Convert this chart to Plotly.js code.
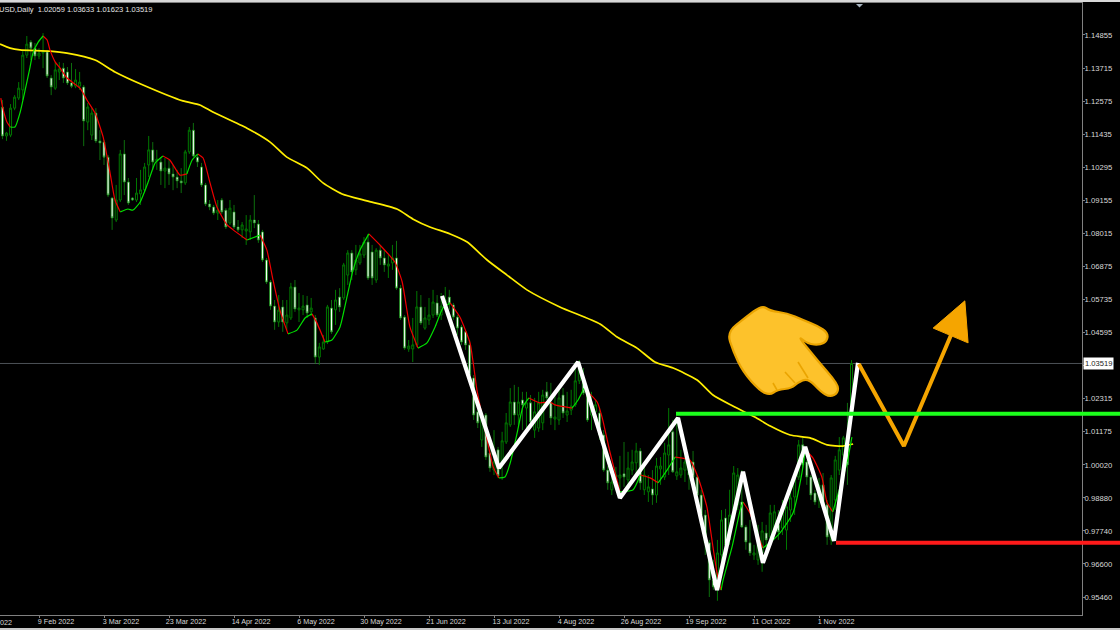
<!DOCTYPE html>
<html>
<head>
<meta charset="utf-8">
<script src="https://cdn.plot.ly/plotly-3.0.1.min.js"></script>
<style>html,body{margin:0;padding:0;background:#000;overflow:hidden}#chart{width:1120px;height:630px}</style>
</head>
<body>
<div id="chart"></div>
<script>
const barOpen = [1.1237,1.1137,1.1140,1.1233,1.1268,1.1296,1.1416,1.1461,1.1440,1.1413,1.1423,1.1427,1.1337,1.1302,1.1358,1.1371,1.1358,1.1320,1.1309,1.1309,1.1306,1.1185,1.1140,1.1216,1.1120,1.1116,1.1064,1.0923,1.0847,1.0916,1.1075,1.0978,1.0923,1.0916,1.0937,1.0951,1.1037,1.1089,1.1051,1.1047,1.1016,1.1026,1.1006,1.0995,1.0982,1.0975,1.1082,1.1157,1.1064,1.1030,1.0968,1.0902,1.0892,1.0871,1.0916,1.0881,1.0837,1.0875,1.0823,1.0813,1.0809,1.0806,1.0847,1.0833,1.0806,1.0709,1.0633,1.0550,1.0495,1.0547,1.0492,1.0509,1.0616,1.0537,1.0537,1.0554,1.0530,1.0509,1.0374,1.0402,1.0426,1.0543,1.0537,1.0581,1.0578,1.0657,1.0733,1.0675,1.0699,1.0726,1.0771,1.0737,1.0640,1.0743,1.0716,1.0688,1.0699,1.0716,1.0612,1.0512,1.0402,1.0402,1.0416,1.0547,1.0474,1.0502,1.0519,1.0561,1.0519,1.0550,1.0581,1.0554,1.0512,1.0478,1.0461,1.0416,1.0302,1.0185,1.0088,1.0174,1.0043,0.9984,1.0054,1.0009,1.0081,1.0140,1.0219,1.0174,1.0226,1.0198,1.0216,1.0122,1.0129,1.0147,1.0254,1.0216,1.0160,1.0157,1.0243,1.0174,1.0191,1.0209,1.0292,1.0295,1.0250,1.0174,1.0185,1.0181,1.0105,0.9984,0.9916,0.9960,0.9957,0.9971,0.9950,0.9984,1.0009,1.0050,0.9916,0.9909,0.9919,0.9898,0.9988,0.9960,1.0036,1.0116,0.9964,0.9967,0.9984,1.0012,1.0012,0.9960,0.9898,0.9829,0.9733,0.9605,0.9571,0.9691,0.9819,0.9743,0.9846,0.9864,0.9874,0.9788,0.9733,0.9691,0.9674,0.9698,0.9767,0.9753,0.9777,0.9795,0.9784,0.9777,0.9846,0.9891,0.9960,1.0071,1.0012,0.9960,0.9905,0.9881,0.9933,0.9864,0.9743,0.9881,0.9984,1.0036,1.0071,1.02059];
const barHigh = [1.1261,1.1151,1.1247,1.1278,1.1323,1.1434,1.1482,1.1468,1.1458,1.1440,1.1492,1.1434,1.1347,1.1392,1.1392,1.1389,1.1375,1.1389,1.1368,1.1358,1.1313,1.1251,1.1233,1.1233,1.1157,1.1123,1.1071,1.0926,1.0968,1.1089,1.1123,1.0992,1.0926,1.0992,1.1020,1.1044,1.1137,1.1116,1.1089,1.1064,1.1061,1.1054,1.1037,1.1020,1.1026,1.1089,1.1168,1.1182,1.1071,1.1044,1.0975,1.0916,1.0899,1.0916,1.0923,1.0888,1.0916,1.0899,1.0847,1.0840,1.0864,1.0864,1.0933,1.0847,1.0813,1.0716,1.0640,1.0571,1.0588,1.0571,1.0571,1.0630,1.0640,1.0595,1.0588,1.0585,1.0578,1.0519,1.0423,1.0450,1.0554,1.0571,1.0606,1.0612,1.0699,1.0743,1.0743,1.0761,1.0761,1.0788,1.0799,1.0761,1.0750,1.0761,1.0743,1.0726,1.0761,1.0775,1.0623,1.0519,1.0433,1.0509,1.0602,1.0588,1.0547,1.0578,1.0606,1.0588,1.0595,1.0616,1.0606,1.0561,1.0519,1.0485,1.0468,1.0433,1.0312,1.0209,1.0185,1.0181,1.0054,1.0122,1.0064,1.0116,1.0181,1.0267,1.0278,1.0271,1.0254,1.0254,1.0243,1.0233,1.0254,1.0261,1.0288,1.0285,1.0254,1.0261,1.0267,1.0254,1.0261,1.0357,1.0364,1.0336,1.0261,1.0254,1.0226,1.0198,1.0122,0.9998,0.9984,0.9995,1.0033,1.0081,1.0047,1.0054,1.0078,1.0060,1.0002,0.9967,0.9984,1.0026,1.0029,1.0078,1.0198,1.0157,1.0164,1.0054,1.0054,1.0026,1.0050,0.9967,0.9916,0.9846,0.9743,0.9674,0.9743,0.9846,0.9850,0.9916,0.9998,0.9991,0.9984,0.9795,0.9812,0.9726,0.9795,0.9805,0.9795,0.9864,0.9864,0.9846,0.9881,0.9898,0.9916,0.9967,1.0088,1.0095,1.0019,0.9967,0.9916,0.9957,0.9974,0.9881,0.9967,1.0033,1.0098,1.0102,1.0216,1.03633];
const barLow = [1.1126,1.1120,1.1133,1.1226,1.1261,1.1261,1.1406,1.1399,1.1399,1.1402,1.1371,1.1337,1.1278,1.1296,1.1330,1.1320,1.1313,1.1302,1.1302,1.1296,1.1102,1.1157,1.1123,1.1113,1.1054,1.1037,1.0926,1.0813,1.0840,1.0909,1.0933,1.0899,1.0913,1.0909,1.0899,1.0944,1.0995,1.1020,1.1020,1.0968,1.0957,1.0968,1.0950,1.0957,1.0940,1.0968,1.1075,1.1064,1.1030,1.0961,1.0895,1.0881,1.0864,1.0847,1.0868,1.0816,1.0830,1.0816,1.0806,1.0785,1.0761,1.0778,1.0819,1.0768,1.0702,1.0626,1.0537,1.0468,1.0478,1.0461,1.0468,1.0502,1.0530,1.0495,1.0519,1.0509,1.0516,1.0350,1.0347,1.0399,1.0419,1.0454,1.0485,1.0530,1.0571,1.0623,1.0640,1.0657,1.0692,1.0716,1.0640,1.0623,1.0630,1.0692,1.0668,1.0647,1.0675,1.0606,1.0502,1.0399,1.0392,1.0357,1.0409,1.0485,1.0468,1.0485,1.0509,1.0512,1.0502,1.0537,1.0537,1.0502,1.0450,1.0416,1.0399,1.0295,1.0157,1.0129,1.0064,1.0019,0.9978,0.9967,0.9957,0.9950,1.0074,1.0133,1.0140,1.0140,1.0122,1.0129,1.0140,1.0095,1.0116,1.0122,1.0226,1.0140,1.0122,1.0140,1.0164,1.0150,1.0174,1.0202,1.0281,1.0243,1.0150,1.0122,1.0157,1.0088,0.9978,0.9916,0.9898,0.9916,0.9916,0.9926,0.9926,0.9967,0.9967,0.9916,0.9898,0.9874,0.9864,0.9871,0.9933,0.9950,0.9967,0.9974,0.9950,0.9957,0.9943,0.9916,0.9950,0.9864,0.9812,0.9691,0.9546,0.9571,0.9533,0.9657,0.9709,0.9726,0.9846,0.9846,0.9784,0.9709,0.9688,0.9674,0.9657,0.9633,0.9709,0.9726,0.9760,0.9743,0.9760,0.9709,0.9805,0.9829,0.9950,0.9992,0.9933,0.9881,0.9864,0.9853,0.9846,0.9726,0.9726,0.9846,0.9967,0.9984,0.9933,1.01623];
const barClose = [1.1137,1.1147,1.1233,1.1271,1.1302,1.1416,1.1454,1.1440,1.1413,1.1423,1.1427,1.1344,1.1306,1.1365,1.1368,1.1337,1.1320,1.1309,1.1330,1.1323,1.1189,1.1237,1.1216,1.1120,1.1113,1.1064,1.0933,1.0854,1.0916,1.1075,1.0978,1.0906,1.0916,1.0940,1.0951,1.1030,1.1089,1.1047,1.1057,1.1016,1.1026,1.1006,1.0995,1.0982,1.0975,1.1082,1.1157,1.1068,1.1047,1.0968,1.0902,1.0892,1.0871,1.0881,1.0875,1.0823,1.0888,1.0823,1.0813,1.0830,1.0816,1.0847,1.0837,1.0778,1.0709,1.0633,1.0550,1.0495,1.0536,1.0495,1.0519,1.0616,1.0540,1.0543,1.0550,1.0526,1.0543,1.0374,1.0409,1.0426,1.0547,1.0461,1.0571,1.0547,1.0692,1.0733,1.0668,1.0709,1.0730,1.0771,1.0647,1.0647,1.0743,1.0716,1.0692,1.0695,1.0716,1.0612,1.0509,1.0405,1.0412,1.0416,1.0547,1.0492,1.0509,1.0519,1.0564,1.0519,1.0550,1.0571,1.0557,1.0512,1.0474,1.0426,1.0416,1.0312,1.0174,1.0147,1.0157,1.0029,0.9991,1.0012,0.9964,1.0085,1.0147,1.0219,1.0174,1.0219,1.0209,1.0216,1.0150,1.0185,1.0216,1.0243,1.0233,1.0164,1.0167,1.0233,1.0181,1.0188,1.0205,1.0292,1.0336,1.0250,1.0157,1.0209,1.0209,1.0105,0.9984,0.9940,0.9943,0.9967,0.9967,0.9960,0.9991,1.0012,1.0050,0.9940,0.9967,0.9926,0.9898,0.9998,0.9998,1.0043,1.0071,0.9978,0.9978,0.9991,1.0012,0.9967,0.9960,0.9898,0.9829,0.9733,0.9605,0.9581,0.9698,0.9812,0.9726,0.9829,0.9974,0.9967,0.9788,0.9736,0.9698,0.9698,0.9726,0.9774,0.9743,0.9836,0.9840,0.9771,0.9846,0.9857,0.9888,0.9957,1.0071,1.0002,0.9960,0.9898,0.9874,0.9933,0.9864,0.9753,0.9957,1.0019,1.0054,1.0095,1.0002,1.03519];

const maIndex = [0.4,2.9,5.3,12.7,16.9,23.8,28.7,35.6,45.4,49.6,52.8,61.2,66.9,71,76,79.9,84.6,90.7,98.1,102.1,106.2,111.2,115.4,120.3,125.2,130.1,138.2,148.1,152.3,157.2,161.6,166.1,172,175.9,180.8,186.2,190,194.9,199.8,204,207.9,210.4];
const maValue = [1.1454,1.1440,1.1434,1.1430,1.1423,1.1399,1.1358,1.1313,1.1258,1.1244,1.1220,1.1164,1.1116,1.1064,1.1026,1.0975,1.0937,1.0913,1.0885,1.0850,1.0823,1.0799,1.0771,1.0709,1.0657,1.0606,1.0547,1.0488,1.0443,1.0405,1.0357,1.0336,1.0295,1.0243,1.0205,1.0167,1.0136,1.0105,1.0095,1.0071,1.0067,1.0074];

const hmaIndex = [0.6,1.1,2.1,2.9,4.1,5.3,6.6,7.8,8.5,9.8,11,12,12.7,14,15.2,16.9,20.1,21.8,23.8,25.8,27.5,28.7,30,31.9,33.1,34.9,36.8,38.6,40.5,42.2,44.7,46.4,47.7,49.1,50.4,52.1,53.8,56.3,57.8,61.2,64.4,66.1,67.6,69.3,71.3,73.5,75.5,77.2,78.4,80.4,82.1,84.1,85.8,87.3,89,91.2,93.9,97.6,99.4,101.3,103.3,105.5,107.5,109.4,111.2,113.6,116.1,117.8,119.3,121.8,123.2,124.7,126,127.7,129.1,130.6,133.3,135.8,137,141.2,142.7,144.2,147.4,148.6,150.6,153,156.2,158,160.4,162.4,164.6,166.6,170.2,172.2,174.4,175.9,176.9,177.9,178.4,180.6,182.6,183.3,185,186.7,188.2,189.9,192.4,195.6,197.8,198.6,200.5,202.7,204,205.4,207.2,208.9,210.1];
const hmaValue = [1.1268,1.1233,1.1185,1.1168,1.1168,1.1216,1.1296,1.1375,1.1423,1.1461,1.1482,1.1468,1.1434,1.1392,1.1371,1.1337,1.1302,1.1261,1.1216,1.1133,1.1009,1.0916,1.0875,1.0885,1.0881,1.0909,1.0975,1.1044,1.1068,1.1054,1.1002,1.1006,1.1054,1.1075,1.1061,1.0975,1.0892,1.0830,1.0813,1.0778,1.0795,1.0743,1.0640,1.0536,1.0454,1.0467,1.0509,1.0523,1.0492,1.0426,1.0433,1.0478,1.0581,1.0674,1.0743,1.0799,1.0761,1.0702,1.0633,1.0478,1.0405,1.0423,1.0478,1.0543,1.0561,1.0512,1.0423,1.0261,1.0157,0.9995,0.9957,0.9960,1.0009,1.0112,1.0202,1.0233,1.0216,1.0219,1.0209,1.0198,1.0226,1.0267,1.0219,1.0167,1.0043,0.9909,0.9915,0.9967,0.9957,0.9940,0.9984,1.0029,1.0019,0.9960,0.9857,0.9719,0.9629,0.9570,0.9605,0.9719,0.9846,0.9874,0.9836,0.9767,0.9715,0.9733,0.9767,0.9836,0.9974,1.0054,1.0026,0.9960,0.9871,0.9840,0.9926,1.0009,1.0098];
const hmaTurns = [2.9,11,30,40.5,46.4,49.1,61.2,64.4,71.3,77.2,80.4,91.2,103.3,111.2,123.2,130.6,141.2,144.2,153,158,162.4,166.6,177.9,183.3,188.2,198.6,205.4];

const zigzagIndex = [109.2,123.2,142.7,153,167.3,176.9,183.3,188.2,198.6,205.7,211.6];
const zigzagValue = [1.0585,0.9991,1.0357,0.9888,1.0164,0.9570,0.9978,0.9664,1.0064,0.9740,1.0354];
const forecastIndex = [211.8,222.9,234.5];
const forecastValue = [1.0350,1.0067,1.0450];
const arrowIndex = [237.9,230.1,238.7,237.9];
const arrowValue = [1.0568,1.0474,1.0423,1.0568];

const resistanceLevel = 1.0178;
const supportLevel = 0.9733;
const lastPrice = 1.03519;

const priceTicks = [1.14855,1.13715,1.12575,1.11435,1.10295,1.09155,1.08015,1.06875,1.05735,1.04595,1.03455,1.02315,1.01175,1.00020,0.98880,0.97740,0.96600,0.95460];
const dateTickIndex = [10,26,42,58,74,90,106,122,138,154,170,186,202];
const dateTickLabels = ['9 Feb 2022','3 Mar 2022','23 Mar 2022','14 Apr 2022','6 May 2022','30 May 2022','21 Jun 2022','13 Jul 2022','4 Aug 2022','26 Aug 2022','19 Sep 2022','11 Oct 2022','1 Nov 2022'];
const barIndex = barOpen.map((_, k) => k + 1);

const W = 1120, H = 630, plotRight = 1082, plotTop = 3, plotBottom = 615;
const px = x => x / plotRight;
const py = y => 1 - (y - plotTop) / (plotBottom - plotTop);
const fmt = p => px(p[0]).toFixed(5) + ' ' + py(p[1]).toFixed(5);
const pathOf = (pts, close) => pts.map((p, k) => (k ? 'L' : 'M') + fmt(p)).join(' ') + (close ? ' Z' : '');
// closed outline with softened corners
const roundedPath = pts => {
  const mid = (a, b) => [(a[0] + b[0]) / 2, (a[1] + b[1]) / 2];
  let d = 'M' + fmt(mid(pts[pts.length - 1], pts[0]));
  pts.forEach((p, k) => { d += ' Q' + fmt(p) + ' ' + fmt(mid(p, pts[(k + 1) % pts.length])); });
  return d + ' Z';
};

const handOutline = [[727,332],[745,318],[762,305],[770,311],[787,313],[803,320],[818,326],[828,333],[827,341],[820,345],[808,344],[797,335],[817,360],[838,384],[838,393],[830,397],[821,392],[808,378],[797,383],[792,388],[777,390],[770,395],[760,391],[743,372],[733,351]];
const handCreases = [[[798,362],[808,378]],[[785,372],[795,383]],[[773,383],[777,390]]];

// split the smoothed line into falling (red) and rising (green) runs at its turning points
let redX = [], redY = [], greenX = [], greenY = [];
let isRed = true, turn = 0;
hmaIndex.forEach((x, k) => {
  const y = hmaValue[k];
  (isRed ? redX : greenX).push(x); (isRed ? redY : greenY).push(y);
  if (turn < hmaTurns.length && x === hmaTurns[turn]) {
    (isRed ? redX : greenX).push(null); (isRed ? redY : greenY).push(null);
    isRed = !isRed; turn++;
    (isRed ? redX : greenX).push(x); (isRed ? redY : greenY).push(y);
  }
});

const traces = [
  {type:'candlestick', x:barIndex, open:barOpen, high:barHigh, low:barLow, close:barClose, width:0.9,
   increasing:{line:{color:'#007800',width:1}, fillcolor:'#000000'},
   decreasing:{line:{color:'#108a10',width:0.8}, fillcolor:'#ffffff'},
   whiskerwidth:0, hoverinfo:'none', showlegend:false},
  {type:'scatter', mode:'lines', x:maIndex, y:maValue, line:{color:'#ffee00',width:1.7,shape:'spline',smoothing:0.6}, hoverinfo:'none', showlegend:false},
  {type:'scatter', mode:'lines', x:redX, y:redY, line:{color:'#f00000',width:1.2,shape:'spline',smoothing:0.5}, connectgaps:false, hoverinfo:'none', showlegend:false},
  {type:'scatter', mode:'lines', x:greenX, y:greenY, line:{color:'#00e000',width:1.2,shape:'spline',smoothing:0.5}, connectgaps:false, hoverinfo:'none', showlegend:false},
  {type:'scatter', mode:'lines', x:zigzagIndex, y:zigzagValue, line:{color:'#ffffff',width:4.2}, hoverinfo:'none', showlegend:false},
  {type:'scatter', mode:'lines', x:forecastIndex, y:forecastValue, line:{color:'#f5a500',width:4}, hoverinfo:'none', showlegend:false},
  {type:'scatter', mode:'lines', x:arrowIndex, y:arrowValue, fill:'toself', fillcolor:'#f5a500', line:{color:'#f5a500',width:1}, hoverinfo:'none', showlegend:false}
];

const shapes = [
  {type:'line', xref:'paper', yref:'y', x0:0, x1:1, y0:lastPrice, y1:lastPrice, line:{color:'#4c5156',width:1}, layer:'below'},
  {type:'line', xref:'paper', yref:'y', x0:px(676), x1:px(W), y0:resistanceLevel, y1:resistanceLevel, line:{color:'#1cff1c',width:4}, layer:'above'},
  {type:'line', xref:'paper', yref:'y', x0:px(836), x1:px(W), y0:supportLevel, y1:supportLevel, line:{color:'#ff1a1a',width:4}, layer:'above'},
  {type:'path', xref:'paper', yref:'paper', path:roundedPath(handOutline), fillcolor:'#fdc22b', line:{color:'#eaa400',width:2.2}, layer:'above'},
  {type:'path', xref:'paper', yref:'paper', path:pathOf([[856,4],[863,4],[859.5,7.5]], true), fillcolor:'#a8b4c0', line:{width:0}, layer:'above'},
  {type:'rect', xref:'paper', yref:'paper', x0:0, x1:px(W), y0:py(0), y1:py(2), fillcolor:'#d8d8d8', line:{width:0}, layer:'above'},
  {type:'rect', xref:'paper', yref:'paper', x0:0, x1:px(W), y0:py(628), y1:py(630), fillcolor:'#c8c8c8', line:{width:0}, layer:'above'}
].concat(handCreases.map(c => ({type:'path', xref:'paper', yref:'paper', path:pathOf(c, false), line:{color:'#eaa400',width:1.6}, layer:'above'})));

const annotations = [
  {xref:'paper', yref:'paper', x:px(-3), y:py(9.5), xanchor:'left', yanchor:'middle', showarrow:false,
   text:'USD,Daily&nbsp;&nbsp;1.02059 1.03633 1.01623 1.03519', font:{family:'Liberation Sans',size:7.5,color:'#e4e4e4'}},
  {xref:'paper', yref:'paper', x:px(-2), y:py(622), xanchor:'left', yanchor:'middle', showarrow:false,
   text:'022', font:{family:'Liberation Sans',size:7.2,color:'#d8d8d8'}},
  {xref:'paper', yref:'y', x:px(1083), y:lastPrice, xanchor:'left', yanchor:'middle', showarrow:false,
   text:lastPrice.toFixed(5), bgcolor:'#ffffff', borderpad:1, font:{family:'Liberation Sans',size:7.6,color:'#222222'}}
];

const layout = {
  width:W, height:H, margin:{l:0, r:W-plotRight, t:plotTop, b:H-plotBottom, pad:0},
  paper_bgcolor:'#000000', plot_bgcolor:'#000000', showlegend:false,
  font:{family:'Liberation Sans', size:8, color:'#d8d8d8'},
  hovermode:false, dragmode:false,
  xaxis:{range:[0.4,266.74], rangeslider:{visible:false}, tickmode:'array', tickvals:dateTickIndex, ticktext:dateTickLabels,
         ticks:'outside', ticklen:2, tickcolor:'#808080', ticklabelshift:17, ticklabelstandoff:-3, showgrid:false, zeroline:false,
         showline:true, linecolor:'#808080', linewidth:1, mirror:true, tickangle:0, automargin:false,
         tickfont:{family:'Liberation Sans',size:7.2,color:'#d8d8d8'}},
  yaxis:{side:'right', range:[0.94839,1.15959], tickmode:'array', tickvals:priceTicks, ticktext:priceTicks.map(v => v.toFixed(5)),
         ticks:'outside', ticklen:2, tickcolor:'#808080', ticklabelstandoff:-2, showgrid:false, zeroline:false,
         showline:true, linecolor:'#808080', linewidth:1, automargin:false,
         tickfont:{family:'Liberation Sans',size:7.7,color:'#d8d8d8'}},
  shapes:shapes, annotations:annotations
};

Plotly.newPlot('chart', traces, layout, {displayModeBar:false, staticPlot:true});
</script>
</body>
</html>
